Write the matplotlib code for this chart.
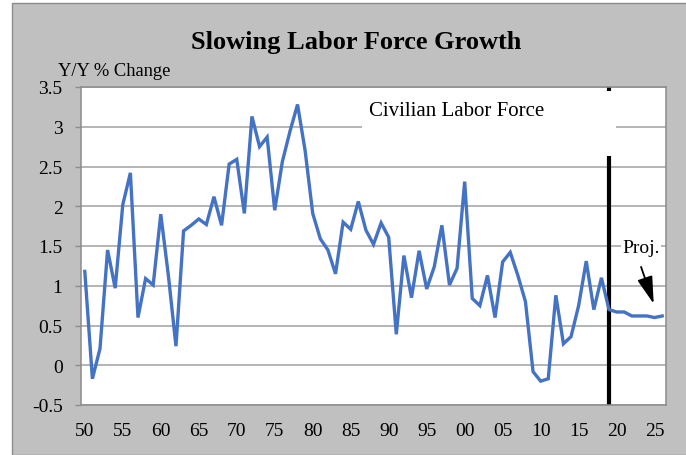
import matplotlib.pyplot as plt
from matplotlib.patches import Rectangle

years = list(range(1950, 2027))
labor_force_yy = [1.18, -0.17, 0.21, 1.45, 0.97, 2.02, 2.42, 0.60, 1.09, 1.01,
                  1.90, 1.13, 0.24, 1.69, 1.76, 1.84, 1.77, 2.12, 1.76, 2.53,
                  2.59, 1.91, 3.13, 2.75, 2.87, 1.95, 2.56, 2.94, 3.28, 2.70,
                  1.91, 1.59, 1.45, 1.15, 1.80, 1.71, 2.06, 1.70, 1.52, 1.79,
                  1.61, 0.39, 1.38, 0.85, 1.44, 0.96, 1.24, 1.76, 1.01, 1.22,
                  2.31, 0.84, 0.75, 1.13, 0.60, 1.30, 1.42, 1.13, 0.80, -0.08,
                  -0.20, -0.17, 0.88, 0.27, 0.36, 0.75, 1.31, 0.70, 1.10, 0.70,
                  0.67, 0.67, 0.62, 0.62, 0.62, 0.60, 0.62]
proj_start = 2019
y_ticks = [-0.5, 0, 0.5, 1, 1.5, 2, 2.5, 3, 3.5]
y_tick_labels = ['-0.5', '0', '0.5', '1', '1.5', '2', '2.5', '3', '3.5']
x_tick_years = list(range(1950, 2027, 5))
x_tick_labels = [f'{y % 100:02d}' for y in x_tick_years]

plt.rcParams['font.family'] = ['Liberation Serif', 'DejaVu Serif']

fig = plt.figure(figsize=(6.86, 4.56), dpi=100)
fig.patch.set_facecolor('white')

# gray chart frame
fig.patches.append(Rectangle((12 / 686, 0), 1, 452 / 456, transform=fig.transFigure,
                             facecolor='#c0c0c0', edgecolor='#8c8c8c', linewidth=1, zorder=0))

ax = fig.add_axes([81 / 686, 1 - 406 / 456, 585 / 686, 318 / 456])
ax.set_zorder(2)
ax.set_facecolor('white')

x = [years.index(y) for y in years]
ax.plot(x, labor_force_yy, color='#4472c4', linewidth=2.4, zorder=3, solid_joinstyle='miter')

ax.axvline(years.index(proj_start), color='black', linewidth=3, zorder=2)

ax.set_xlim(-0.5, len(years) - 0.5)
ax.set_ylim(-0.5, 3.5)
ax.set_yticks(y_ticks)
ax.set_yticklabels(y_tick_labels)
ax.set_xticks([years.index(y) for y in x_tick_years])
ax.set_xticklabels(x_tick_labels)
ax.tick_params(axis='y', length=4.3, width=1, color='#8c8c8c', pad=9, labelsize=14)
ax.tick_params(axis='x', length=0, pad=12, labelsize=14)

ax.grid(axis='y', color='#a0a0a0', linewidth=1.1, zorder=1)
ax.set_axisbelow(True)
for s in ax.spines.values():
    s.set_color('#8c8c8c')
    s.set_linewidth(1.1)

# white label box covering grid & proj line
ax.add_patch(Rectangle((0.48, 0.783), 0.4345, 0.204, transform=ax.transAxes,
                       facecolor='white', edgecolor='none', zorder=4))
ax.text(0.642, 0.925, 'Civilian Labor Force', transform=ax.transAxes, ha='center', va='center',
        fontsize=15, zorder=5)

ax.text(0.957, 0.495, 'Proj.', transform=ax.transAxes, ha='center', va='center', fontsize=14,
        zorder=5, bbox=dict(facecolor='white', edgecolor='none', pad=1))
ax.annotate('', xy=(75.0, 0.74), xytext=(73.1, 1.27),
            arrowprops=dict(arrowstyle='-|>,head_length=0.7,head_width=0.2', color='black',
                            lw=1.3, mutation_scale=24), zorder=5)

fig.text(356 / 686, 1 - 42 / 456, 'Slowing Labor Force Growth', ha='center', va='center',
         fontsize=19, fontweight='bold')
fig.text(58 / 686, 1 - 71 / 456, 'Y/Y % Change', ha='left', va='center', fontsize=13.3)

plt.savefig('out.png', dpi=100)
plt.close()
